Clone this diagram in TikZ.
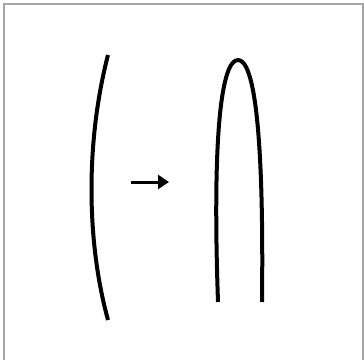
\documentclass[tikz,border=0pt]{standalone}
\usetikzlibrary{arrows.meta}
\begin{document}
\begin{tikzpicture}[x=1pt,y=-1pt,
  stroke/.style={line width=4pt,black},
  framebox/.style={draw=gray!70,line width=2.5pt}]
\useasboundingbox (0,0) rectangle (364,359);
\fill[white] (0,0) rectangle (364,359);
\draw[framebox] (4.2,4.2) rectangle (363,362);
% left curve
\draw[stroke] (108,55) .. controls (86,140) and (86,240) .. (108,320);
% arrow
\coordinate (as) at (131,182);
\coordinate (ae) at (169,182);
\draw[line width=3pt,-{Triangle[length=11pt,width=14pt]}] (as) -- (ae);
% right shape
\draw[stroke] (218,302) .. controls (212,130) and (222,60) .. (238,60)
  .. controls (254,60) and (264,130) .. (262,302);
\end{tikzpicture}
\end{document}
